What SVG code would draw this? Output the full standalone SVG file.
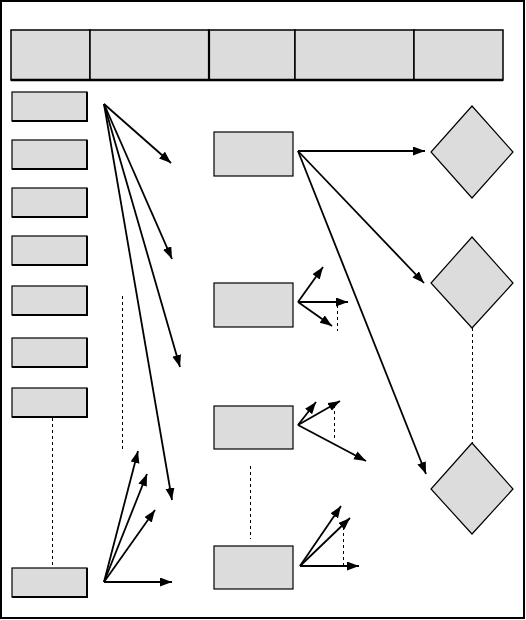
<svg xmlns="http://www.w3.org/2000/svg" width="526" height="620" viewBox="0 0 526 620">
<style>
.bx{fill:#dcdcdc;stroke:#000;stroke-width:1.2}
.sh{fill:none;stroke:#000;stroke-width:2}
.hd{fill:#dcdcdc;stroke:#000;stroke-width:1.5}
.ln{fill:none;stroke:#000;stroke-width:1.8;marker-end:url(#ah)}
.ds{fill:none;stroke:#000;stroke-width:1;stroke-dasharray:3,3}
</style>
<defs>
<marker id="ah" markerUnits="userSpaceOnUse" markerWidth="13" markerHeight="10" refX="12" refY="4.5" orient="auto">
<path d="M0,0 L12,4.5 L0,9 z" fill="#000"/>
</marker>
</defs>
<rect x="1" y="1" width="523" height="617" fill="#fff" stroke="#000" stroke-width="2"/>
<g id="header">
<rect class="hd" x="11" y="30" width="79" height="50"/>
<rect class="hd" x="90" y="30" width="119" height="50"/>
<rect class="hd" x="209" y="30" width="86" height="50"/>
<rect class="hd" x="295" y="30" width="119" height="50"/>
<rect class="hd" x="414" y="30" width="89" height="50"/>
<line x1="209" y1="30" x2="209" y2="80" stroke="#000" stroke-width="2.2"/>
<line x1="11" y1="80" x2="503" y2="80" stroke="#000" stroke-width="2.5"/>
</g>
<g id="left1"><rect class="bx" x="12" y="92" width="75" height="29"/><polyline class="sh" points="87,92 87,121 12,121"/></g>
<g id="left2"><rect class="bx" x="12" y="140" width="75" height="29"/><polyline class="sh" points="87,140 87,169 12,169"/></g>
<g id="left3"><rect class="bx" x="12" y="188" width="75" height="29"/><polyline class="sh" points="87,188 87,217 12,217"/></g>
<g id="left4"><rect class="bx" x="12" y="236" width="75" height="29"/><polyline class="sh" points="87,236 87,265 12,265"/></g>
<g id="left5"><rect class="bx" x="12" y="286" width="75" height="29"/><polyline class="sh" points="87,286 87,315 12,315"/></g>
<g id="left6"><rect class="bx" x="12" y="338" width="75" height="29"/><polyline class="sh" points="87,338 87,367 12,367"/></g>
<g id="left7"><rect class="bx" x="12" y="388" width="75" height="29"/><polyline class="sh" points="87,388 87,417 12,417"/></g>
<g id="left8"><rect class="bx" x="12" y="568" width="75" height="29"/><polyline class="sh" points="87,568 87,597 12,597"/></g>
<g id="midA"><rect class="bx" x="214" y="132" width="79" height="44"/></g>
<g id="midB"><rect class="bx" x="214" y="283" width="79" height="44"/></g>
<g id="midC"><rect class="bx" x="214" y="406" width="79" height="43"/></g>
<g id="midD"><rect class="bx" x="214" y="546" width="79" height="43"/></g>
<g id="dia1"><polygon class="bx" points="472,106 513,152 472,198 431,152"/></g>
<g id="dia2"><polygon class="bx" points="472,237 513,283 472,328 431,283"/></g>
<g id="dia3"><polygon class="bx" points="472,443 513,489 472,534 431,489"/></g>
<g id="connectors">
<line class="ds" x1="52.5" y1="418" x2="52.5" y2="568"/>
<line class="ds" x1="122.5" y1="296" x2="122.5" y2="452"/>
<line class="ds" x1="472.5" y1="328" x2="472.5" y2="443"/>
<line class="ds" x1="250.5" y1="466" x2="250.5" y2="539"/>
<line class="ds" x1="337.5" y1="305" x2="337.5" y2="331"/>
<line class="ds" x1="334.5" y1="405" x2="334.5" y2="440"/>
<line class="ds" x1="343.5" y1="527" x2="343.5" y2="566"/>
<line class="ln" x1="104" y1="104" x2="171" y2="163"/>
<line class="ln" x1="104" y1="104" x2="172" y2="259"/>
<line class="ln" x1="104" y1="104" x2="180" y2="367"/>
<line class="ln" x1="104" y1="104" x2="172" y2="500"/>
<line class="ln" x1="104" y1="582" x2="138" y2="451"/>
<line class="ln" x1="104" y1="582" x2="147" y2="474"/>
<line class="ln" x1="104" y1="582" x2="155" y2="510"/>
<line class="ln" x1="104" y1="582" x2="172" y2="582"/>
<line class="ln" x1="298" y1="151" x2="425" y2="151"/>
<line class="ln" x1="298" y1="151" x2="424" y2="283"/>
<line class="ln" x1="298" y1="151" x2="426" y2="474"/>
<line class="ln" x1="298" y1="302" x2="323" y2="267"/>
<line class="ln" x1="298" y1="302" x2="348" y2="302"/>
<line class="ln" x1="298" y1="302" x2="332" y2="326"/>
<line class="ln" x1="298" y1="425" x2="316" y2="402"/>
<line class="ln" x1="298" y1="425" x2="340" y2="401"/>
<line class="ln" x1="298" y1="425" x2="366" y2="461"/>
<line class="ln" x1="300" y1="566" x2="341" y2="506"/>
<line class="ln" x1="300" y1="566" x2="350" y2="518"/>
<line class="ln" x1="300" y1="566" x2="359" y2="566"/>
</g>
</svg>
